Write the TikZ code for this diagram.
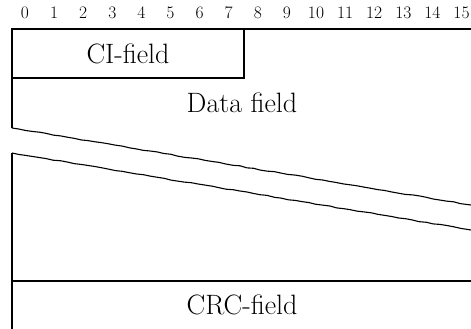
\documentclass[tikz,border=0pt]{standalone}
\usetikzlibrary{decorations.pathmorphing}
\begin{document}
\begin{tikzpicture}[x=1pt,y=-1pt,line width=1.1pt,
  fieldtext/.style={font=\fontsize{28}{32}\selectfont,inner sep=0pt},
  bitnum/.style={font=\fontsize{17.5}{20}\selectfont,inner sep=0pt},
  tear/.style={decorate,decoration={random steps,segment length=7pt,amplitude=0.45pt}}]
\pgfmathsetseed{7}
\useasboundingbox (0,0) rectangle (471,329);
\foreach \i in {0,...,15} \node[bitnum] (b\i) at ({25+29.1*\i},12.5) {\i};
% frame
\coordinate (tl) at (12,29);
\coordinate (tr) at (471,29);
\coordinate (tearA) at (12,128);
\coordinate (tearAr) at (471,205);
\coordinate (tearB) at (12,153);
\coordinate (tearBr) at (471,230);
\coordinate (bl) at (12,329);
\coordinate (crcl) at (12,281);
\coordinate (crcr) at (471,281);
\coordinate (cibl) at (12,78);
\coordinate (cibr) at (244,78);
\coordinate (citr) at (244,29);
\draw (tr) -- (tl) -- (tearA);
\draw (cibl) -- (cibr) -- (citr);
\draw[tear] (tearA) -- (tearAr);
\draw[tear] (tearB) -- (tearBr);
\draw (tearB) -- (bl);
\draw (crcl) -- (crcr);
% texts
\node[fieldtext] (ci) at (128,54) {CI-field};
\node[fieldtext] (data) at (242,103) {Data field};
\node[fieldtext] (crc) at (242,305) {CRC-field};
\end{tikzpicture}
\end{document}
